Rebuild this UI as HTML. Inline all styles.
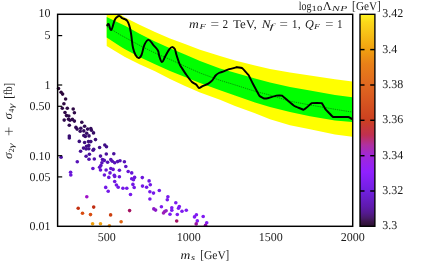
<!DOCTYPE html>
<html><head><meta charset="utf-8"><style>
html,body{margin:0;padding:0;background:#fff;}
body{width:431px;height:264px;overflow:hidden;}
svg{display:block;will-change:transform;}
text{text-rendering:geometricPrecision;font-family:"Liberation Serif",serif;font-size:12px;fill:#1c1c1c;}
</style></head><body>
<svg width="431" height="264" viewBox="0 0 431 264">
<rect width="431" height="264" fill="#fff"/>
<polygon points="106.7,14.9 121.2,14.9 125.0,17.4 140.0,25.0 155.0,32.0 170.0,38.4 185.0,44.1 200.0,49.8 220.0,56.1 235.0,60.4 255.0,65.6 270.0,69.1 290.0,72.6 310.0,75.5 335.0,79.2 352.3,81.6 352.3,136.7 335.0,134.4 310.0,129.3 290.0,125.3 270.0,119.2 255.0,113.3 235.0,105.9 220.0,99.8 200.0,92.6 185.0,86.0 170.0,78.9 155.0,71.3 140.0,64.6 125.0,57.0 121.2,54.8 106.7,45.9" fill="#ffff00"/>
<polygon points="106.7,17.1 121.2,24.0 125.0,25.8 140.0,33.9 155.0,41.4 170.0,48.2 185.0,54.5 200.0,60.9 220.0,68.4 235.0,72.8 255.0,78.4 270.0,82.5 290.0,86.9 310.0,90.4 335.0,94.9 352.3,97.2 352.3,122.1 335.0,120.6 310.0,116.3 290.0,112.1 270.0,107.1 255.0,102.4 235.0,95.6 220.0,90.3 200.0,83.1 185.0,77.0 170.0,70.9 155.0,64.2 140.0,57.2 125.0,49.2 121.2,46.9 106.7,37.5" fill="#00ff00"/>
<polyline points="106.7,26.5 121.2,35.4 125.0,37.4 140.0,45.6 155.0,53.0 170.0,59.4 185.0,66.3 200.0,73.0 220.0,80.3 235.0,84.9 255.0,91.3 270.0,95.1 290.0,101.2 310.0,105.0 335.0,109.3 352.3,112.1" fill="none" stroke="#0a400a" stroke-width="0.55" stroke-dasharray="1.3 0.9"/>
<path d="M106.90,26.20 C107.24,25.76 107.74,23.24 108.60,24.00 C109.46,24.76 110.02,30.70 111.20,30.00 C112.38,29.30 113.38,23.06 114.50,20.50 C115.62,17.94 115.76,18.08 116.80,17.20 C117.84,16.32 118.64,15.90 119.70,16.10 C120.76,16.30 121.06,17.58 122.10,18.20 C123.14,18.82 123.86,18.64 124.90,19.20 C125.94,19.76 126.44,19.78 127.30,21.00 C128.16,22.22 128.54,23.30 129.20,25.30 C129.86,27.30 130.14,28.66 130.60,31.00 C131.06,33.34 131.02,33.64 131.50,37.00 C131.98,40.36 132.20,44.20 133.00,47.80 C133.80,51.40 134.36,52.98 135.50,55.00 C136.64,57.02 137.50,57.90 138.70,57.90 C139.90,57.90 140.34,57.66 141.50,55.00 C142.66,52.34 143.06,47.62 144.50,44.60 C145.94,41.58 146.92,39.80 148.70,39.90 C150.48,40.00 151.56,42.98 153.40,45.10 C155.24,47.22 156.72,48.28 157.90,50.50 C159.08,52.72 158.48,53.90 159.30,56.20 C160.12,58.50 160.80,62.00 162.00,62.00 C163.20,62.00 163.88,58.68 165.30,56.20 C166.72,53.72 167.78,51.42 169.10,49.60 C170.42,47.78 170.76,47.20 171.90,47.10 C173.04,47.00 173.86,47.46 174.80,49.10 C175.74,50.74 175.66,52.36 176.60,55.30 C177.54,58.24 178.54,61.40 179.50,63.80 C180.46,66.20 181.02,66.60 181.40,67.30" fill="none" stroke="#000" stroke-width="1.95" stroke-linejoin="round" stroke-linecap="butt"/>
<path d="M181.40,67.30 C181.89,68.04 185.24,73.23 186.30,74.70 C187.36,76.17 191.02,81.03 192.00,82.00 C192.98,82.97 195.40,83.80 196.10,84.40 C196.80,85.00 198.35,87.83 199.00,88.00 C199.65,88.17 201.67,86.54 202.60,86.10 C203.53,85.66 207.33,84.17 208.30,83.60 C209.27,83.03 211.57,81.21 212.30,80.40 C213.03,79.59 214.94,76.24 215.60,75.50 C216.26,74.76 218.09,73.41 218.90,73.00 C219.71,72.59 222.75,71.76 223.70,71.40 C224.65,71.04 227.12,69.81 228.40,69.40 C229.68,68.99 235.69,67.51 236.50,67.30" fill="none" stroke="#000" stroke-width="1.95" stroke-linejoin="round" stroke-linecap="round"/>
<path d="M236.50,67.30 C236.65,67.32 241.98,67.99 242.30,68.20 C242.62,68.41 248.23,74.61 248.50,75.00 C248.77,75.39 252.27,82.55 252.50,83.00 C252.73,83.45 257.11,91.65 257.30,92.00 C257.49,92.35 259.44,95.83 259.60,96.00 C259.76,96.17 263.19,98.24 263.40,98.30 C263.61,98.36 267.16,98.37 267.50,98.30 C267.84,98.23 275.91,95.67 276.30,95.60 C276.69,95.53 281.70,95.47 282.00,95.60 C282.30,95.73 287.37,100.22 287.70,100.50 C288.03,100.78 293.97,105.75 294.40,106.00 C294.83,106.25 303.34,109.87 303.80,109.80 C304.26,109.73 311.32,103.38 311.80,103.20 C312.28,103.02 321.43,103.04 321.80,103.20 C322.17,103.36 325.30,108.93 325.60,109.30 C325.90,109.67 332.59,116.79 333.20,117.00 C333.81,117.21 347.89,116.94 348.40,117.00 C348.91,117.06 352.20,119.14 352.30,119.20" fill="none" stroke="#000" stroke-width="1.95" stroke-linejoin="miter" stroke-linecap="butt"/>
<circle cx="58.5" cy="88.5" r="1.8" fill="#2c0838"/>
<circle cx="61.1" cy="92.3" r="1.8" fill="#2c083b"/>
<circle cx="62.6" cy="94.1" r="1.8" fill="#2d083c"/>
<circle cx="65.6" cy="99.0" r="1.8" fill="#2d093f"/>
<circle cx="63.9" cy="103.7" r="1.8" fill="#2e0942"/>
<circle cx="62.3" cy="108.2" r="1.8" fill="#2e0945"/>
<circle cx="67.3" cy="108.2" r="1.8" fill="#2e0945"/>
<circle cx="73.2" cy="109.0" r="1.8" fill="#2e0946"/>
<circle cx="65.0" cy="112.5" r="1.8" fill="#2f0948"/>
<circle cx="74.4" cy="112.7" r="1.8" fill="#2f0948"/>
<circle cx="66.5" cy="115.6" r="1.8" fill="#2f094a"/>
<circle cx="68.8" cy="116.0" r="1.8" fill="#2f0a4a"/>
<circle cx="64.2" cy="120.1" r="1.8" fill="#2f0a4d"/>
<circle cx="68.5" cy="119.2" r="1.8" fill="#2f0a4c"/>
<circle cx="70.0" cy="120.3" r="1.8" fill="#2f0a4d"/>
<circle cx="72.4" cy="119.4" r="1.8" fill="#2f0a4c"/>
<circle cx="74.4" cy="121.1" r="1.8" fill="#300a4d"/>
<circle cx="69.3" cy="125.3" r="1.8" fill="#300a51"/>
<circle cx="81.8" cy="122.3" r="1.8" fill="#300a4e"/>
<circle cx="75.9" cy="127.4" r="1.8" fill="#320b56"/>
<circle cx="77.1" cy="129.1" r="1.8" fill="#330b5b"/>
<circle cx="84.6" cy="126.2" r="1.8" fill="#310a53"/>
<circle cx="80.8" cy="128.2" r="1.8" fill="#320b59"/>
<circle cx="80.2" cy="131.2" r="1.8" fill="#340c61"/>
<circle cx="83.8" cy="130.9" r="1.8" fill="#340c60"/>
<circle cx="87.6" cy="129.1" r="1.8" fill="#330b5b"/>
<circle cx="90.8" cy="128.5" r="1.8" fill="#320b59"/>
<circle cx="91.4" cy="130.3" r="1.8" fill="#340b5e"/>
<circle cx="86.7" cy="133.2" r="1.8" fill="#350c66"/>
<circle cx="93.5" cy="132.9" r="1.8" fill="#350c65"/>
<circle cx="83.8" cy="135.5" r="1.8" fill="#370d6c"/>
<circle cx="85.3" cy="136.4" r="1.8" fill="#380d6e"/>
<circle cx="89.0" cy="135.9" r="1.8" fill="#370d6d"/>
<circle cx="69.3" cy="136.1" r="1.8" fill="#370d6e"/>
<circle cx="69.3" cy="138.0" r="1.8" fill="#390d73"/>
<circle cx="95.5" cy="139.6" r="1.8" fill="#3a0e77"/>
<circle cx="79.3" cy="141.4" r="1.8" fill="#3b0e7c"/>
<circle cx="84.6" cy="142.5" r="1.8" fill="#3d0e7f"/>
<circle cx="88.5" cy="141.6" r="1.8" fill="#3c0e7c"/>
<circle cx="90.8" cy="141.6" r="1.8" fill="#3c0e7c"/>
<circle cx="88.8" cy="145.4" r="1.8" fill="#400f86"/>
<circle cx="86.5" cy="146.3" r="1.8" fill="#410f89"/>
<circle cx="83.5" cy="148.1" r="1.8" fill="#430f8e"/>
<circle cx="86.1" cy="149.0" r="1.8" fill="#440f90"/>
<circle cx="88.8" cy="148.7" r="1.8" fill="#430f8f"/>
<circle cx="80.6" cy="151.3" r="1.8" fill="#461096"/>
<circle cx="93.7" cy="149.3" r="1.8" fill="#440f91"/>
<circle cx="93.1" cy="150.2" r="1.8" fill="#450f93"/>
<circle cx="99.6" cy="147.5" r="1.8" fill="#420f8c"/>
<circle cx="104.8" cy="145.0" r="1.8" fill="#3f0f85"/>
<circle cx="106.5" cy="146.7" r="1.8" fill="#410f8a"/>
<circle cx="89.4" cy="154.3" r="1.8" fill="#49109e"/>
<circle cx="86.1" cy="156.3" r="1.8" fill="#4c10a5"/>
<circle cx="61.1" cy="157.2" r="1.8" fill="#4e11a8"/>
<circle cx="89.0" cy="159.2" r="1.8" fill="#5211af"/>
<circle cx="94.3" cy="159.0" r="1.8" fill="#5111ae"/>
<circle cx="100.5" cy="156.1" r="1.8" fill="#4c10a4"/>
<circle cx="106.3" cy="154.0" r="1.8" fill="#49109d"/>
<circle cx="113.8" cy="153.7" r="1.8" fill="#49109d"/>
<circle cx="77.3" cy="161.8" r="1.8" fill="#5712b8"/>
<circle cx="102.5" cy="159.6" r="1.8" fill="#5311b0"/>
<circle cx="104.3" cy="160.4" r="1.8" fill="#5411b3"/>
<circle cx="101.9" cy="162.8" r="1.8" fill="#5912bb"/>
<circle cx="100.9" cy="165.5" r="1.8" fill="#5e13c4"/>
<circle cx="107.6" cy="162.2" r="1.8" fill="#5712b9"/>
<circle cx="110.8" cy="159.6" r="1.8" fill="#5311b0"/>
<circle cx="112.3" cy="161.2" r="1.8" fill="#5612b5"/>
<circle cx="114.7" cy="162.8" r="1.8" fill="#5912bb"/>
<circle cx="117.6" cy="161.6" r="1.8" fill="#5612b7"/>
<circle cx="120.0" cy="160.8" r="1.8" fill="#5512b4"/>
<circle cx="124.4" cy="161.8" r="1.8" fill="#5712b8"/>
<circle cx="99.6" cy="167.3" r="1.8" fill="#6113cb"/>
<circle cx="100.5" cy="170.0" r="1.8" fill="#6614d4"/>
<circle cx="92.9" cy="168.5" r="1.8" fill="#6314cf"/>
<circle cx="70.6" cy="172.3" r="1.8" fill="#6815d7"/>
<circle cx="70.8" cy="175.0" r="1.8" fill="#6a15da"/>
<circle cx="104.4" cy="175.0" r="1.8" fill="#6a15da"/>
<circle cx="125.8" cy="166.5" r="1.8" fill="#5f13c8"/>
<circle cx="110.8" cy="168.5" r="1.8" fill="#6314cf"/>
<circle cx="113.1" cy="169.4" r="1.8" fill="#6514d2"/>
<circle cx="106.1" cy="170.0" r="1.8" fill="#6614d4"/>
<circle cx="119.4" cy="170.3" r="1.8" fill="#6614d4"/>
<circle cx="128.2" cy="171.5" r="1.8" fill="#6714d6"/>
<circle cx="131.7" cy="172.9" r="1.8" fill="#6815d7"/>
<circle cx="110.0" cy="172.9" r="1.8" fill="#6815d7"/>
<circle cx="114.3" cy="175.3" r="1.8" fill="#6a15da"/>
<circle cx="114.7" cy="176.4" r="1.8" fill="#6b16dc"/>
<circle cx="108.8" cy="177.4" r="1.8" fill="#6c16dd"/>
<circle cx="119.4" cy="176.7" r="1.8" fill="#6b16dc"/>
<circle cx="134.6" cy="177.4" r="1.8" fill="#6c16dd"/>
<circle cx="131.7" cy="178.8" r="1.8" fill="#6d16df"/>
<circle cx="133.5" cy="179.7" r="1.8" fill="#6e17e0"/>
<circle cx="142.3" cy="177.6" r="1.8" fill="#6c16dd"/>
<circle cx="114.7" cy="181.5" r="1.8" fill="#6f17e2"/>
<circle cx="149.1" cy="180.9" r="1.8" fill="#6f17e1"/>
<circle cx="116.4" cy="185.0" r="1.8" fill="#7218e6"/>
<circle cx="118.2" cy="187.2" r="1.8" fill="#7318e7"/>
<circle cx="132.9" cy="184.4" r="1.8" fill="#7218e5"/>
<circle cx="134.2" cy="187.5" r="1.8" fill="#7318e7"/>
<circle cx="142.5" cy="186.1" r="1.8" fill="#7318e7"/>
<circle cx="146.6" cy="187.3" r="1.8" fill="#7318e7"/>
<circle cx="150.3" cy="184.8" r="1.8" fill="#7218e6"/>
<circle cx="105.7" cy="187.4" r="1.8" fill="#7318e7"/>
<circle cx="122.9" cy="188.2" r="1.8" fill="#7418e8"/>
<circle cx="126.8" cy="188.2" r="1.8" fill="#7418e8"/>
<circle cx="108.2" cy="191.2" r="1.8" fill="#7519e9"/>
<circle cx="130.5" cy="194.5" r="1.8" fill="#7719eb"/>
<circle cx="149.9" cy="191.7" r="1.8" fill="#7519e9"/>
<circle cx="149.9" cy="199.0" r="1.8" fill="#7919ed"/>
<circle cx="153.5" cy="193.1" r="1.8" fill="#7619ea"/>
<circle cx="159.3" cy="190.5" r="1.8" fill="#7519e9"/>
<circle cx="167.9" cy="196.8" r="1.8" fill="#7819ec"/>
<circle cx="167.3" cy="199.7" r="1.8" fill="#7919ed"/>
<circle cx="175.8" cy="202.7" r="1.8" fill="#7b1aef"/>
<circle cx="161.4" cy="206.8" r="1.8" fill="#7d1af0"/>
<circle cx="171.8" cy="207.7" r="1.8" fill="#7d1af1"/>
<circle cx="171.8" cy="210.3" r="1.8" fill="#7e1bf1"/>
<circle cx="179.3" cy="206.6" r="1.8" fill="#7d1af0"/>
<circle cx="178.5" cy="208.3" r="1.8" fill="#7d1af1"/>
<circle cx="186.3" cy="210.3" r="1.8" fill="#7e1bf1"/>
<circle cx="182.0" cy="211.3" r="1.8" fill="#7e1bf1"/>
<circle cx="170.0" cy="214.2" r="1.8" fill="#801bf2"/>
<circle cx="177.3" cy="214.5" r="1.8" fill="#801bf2"/>
<circle cx="194.5" cy="216.9" r="1.8" fill="#811bf2"/>
<circle cx="196.4" cy="214.8" r="1.8" fill="#801bf2"/>
<circle cx="203.2" cy="216.5" r="1.8" fill="#801bf2"/>
<circle cx="197.3" cy="220.9" r="1.8" fill="#821cf3"/>
<circle cx="206.7" cy="222.8" r="1.8" fill="#831cf3"/>
<circle cx="153.8" cy="208.9" r="1.8" fill="#8c18c8"/>
<circle cx="155.6" cy="210.1" r="1.8" fill="#8c18c8"/>
<circle cx="166.1" cy="210.7" r="1.8" fill="#9420c4"/>
<circle cx="164.7" cy="211.5" r="1.8" fill="#9420c4"/>
<circle cx="163.5" cy="213.0" r="1.8" fill="#9c20b8"/>
<circle cx="86.8" cy="196.8" r="1.8" fill="#a010c8"/>
<circle cx="129.6" cy="210.6" r="1.8" fill="#a41060"/>
<circle cx="176.7" cy="221.0" r="1.8" fill="#a41060"/>
<circle cx="196.2" cy="223.9" r="1.8" fill="#9810a0"/>
<circle cx="205.5" cy="225.3" r="1.8" fill="#9010b0"/>
<circle cx="78.2" cy="208.3" r="1.8" fill="#c43010"/>
<circle cx="93.7" cy="207.1" r="1.8" fill="#c02c10"/>
<circle cx="82.5" cy="213.2" r="1.8" fill="#d84c10"/>
<circle cx="90.5" cy="214.6" r="1.8" fill="#d84c10"/>
<circle cx="110.6" cy="214.9" r="1.8" fill="#cc4010"/>
<circle cx="121.1" cy="221.8" r="1.8" fill="#e06410"/>
<circle cx="92.6" cy="223.8" r="1.8" fill="#f0a010"/>
<circle cx="100.5" cy="223.8" r="1.8" fill="#f0a010"/>
<circle cx="109.4" cy="225.7" r="1.8" fill="#ec8c10"/>
<rect x="57.6" y="14.3" width="295.1" height="212.0" fill="none" stroke="#000" stroke-width="1.45"/>
<line x1="57.6" y1="35.6" x2="62.2" y2="35.6" stroke="#000" stroke-width="1.2"/>
<line x1="57.6" y1="85.0" x2="62.2" y2="85.0" stroke="#000" stroke-width="1.2"/>
<line x1="57.6" y1="106.3" x2="62.2" y2="106.3" stroke="#000" stroke-width="1.2"/>
<line x1="57.6" y1="155.7" x2="62.2" y2="155.7" stroke="#000" stroke-width="1.2"/>
<line x1="57.6" y1="176.9" x2="62.2" y2="176.9" stroke="#000" stroke-width="1.2"/>
<defs><linearGradient id="cb" x1="0" y1="0" x2="0" y2="1"><stop offset="0.0009" stop-color="#fff420"/><stop offset="0.0363" stop-color="#fbd81a"/><stop offset="0.0740" stop-color="#f8c818"/><stop offset="0.1660" stop-color="#f0a010"/><stop offset="0.2344" stop-color="#e88018"/><stop offset="0.3334" stop-color="#e06820"/><stop offset="0.4996" stop-color="#cc4020"/><stop offset="0.5692" stop-color="#c03050"/><stop offset="0.6164" stop-color="#b030a0"/><stop offset="0.6659" stop-color="#a028d8"/><stop offset="0.7437" stop-color="#9020ff"/><stop offset="0.8321" stop-color="#7020e0"/><stop offset="0.9087" stop-color="#5e1aac"/><stop offset="0.9370" stop-color="#541a90"/><stop offset="0.9606" stop-color="#481a6c"/><stop offset="0.9795" stop-color="#3a1648"/><stop offset="0.9998" stop-color="#2a1030"/></linearGradient></defs>
<rect x="360.0" y="14.3" width="14.9" height="212.0" fill="url(#cb)" stroke="#000" stroke-width="1.35"/>
<line x1="360.0" y1="191.0" x2="364.5" y2="191.0" stroke="#000" stroke-width="1.45"/>
<line x1="370.2" y1="191.0" x2="374.9" y2="191.0" stroke="#000" stroke-width="1.45"/>
<line x1="360.0" y1="155.7" x2="364.5" y2="155.7" stroke="#000" stroke-width="1.45"/>
<line x1="370.2" y1="155.7" x2="374.9" y2="155.7" stroke="#000" stroke-width="1.45"/>
<line x1="360.0" y1="120.3" x2="364.5" y2="120.3" stroke="#000" stroke-width="1.45"/>
<line x1="370.2" y1="120.3" x2="374.9" y2="120.3" stroke="#000" stroke-width="1.45"/>
<line x1="360.0" y1="85.0" x2="364.5" y2="85.0" stroke="#000" stroke-width="1.45"/>
<line x1="370.2" y1="85.0" x2="374.9" y2="85.0" stroke="#000" stroke-width="1.45"/>
<line x1="360.0" y1="49.6" x2="364.5" y2="49.6" stroke="#000" stroke-width="1.45"/>
<line x1="370.2" y1="49.6" x2="374.9" y2="49.6" stroke="#000" stroke-width="1.45"/>
<text x="50.5" y="17.4" text-anchor="end" >10</text>
<text x="50.5" y="39.4" text-anchor="end" >5</text>
<text x="50.5" y="88.8" text-anchor="end" >1</text>
<text x="50.5" y="110.1" text-anchor="end" >0.50</text>
<text x="50.5" y="159.5" text-anchor="end" >0.10</text>
<text x="50.5" y="180.7" text-anchor="end" >0.05</text>
<text x="50.5" y="230.2" text-anchor="end" >0.01</text>
<text x="106.8" y="241.4" text-anchor="middle" >500</text>
<text x="188.8" y="241.4" text-anchor="middle" >1000</text>
<text x="270.8" y="241.4" text-anchor="middle" >1500</text>
<text x="352.8" y="241.4" text-anchor="middle" >2000</text>
<text x="382.3" y="229.3" text-anchor="start" >3.3</text>
<text x="382.3" y="194.0" text-anchor="start" >3.32</text>
<text x="382.3" y="158.7" text-anchor="start" >3.34</text>
<text x="382.3" y="123.3" text-anchor="start" >3.36</text>
<text x="382.3" y="88.0" text-anchor="start" >3.38</text>
<text x="382.3" y="52.6" text-anchor="start" >3.4</text>
<text x="382.3" y="17.0" text-anchor="start" >3.42</text>
<text x="180.6" y="258.6" textLength="9.8" lengthAdjust="spacingAndGlyphs" font-style="italic">m</text>
<text x="191.0" y="260.3" textLength="4.2" lengthAdjust="spacingAndGlyphs" style="font-size:7.8px" font-style="italic">s</text>
<text x="200.3" y="258.9" textLength="3.7" lengthAdjust="spacingAndGlyphs" style="font-size:13.0px">[</text>
<text x="204.0" y="258.6" textLength="21.9" lengthAdjust="spacingAndGlyphs">GeV</text>
<text x="225.4" y="258.9" textLength="3.7" lengthAdjust="spacingAndGlyphs" style="font-size:13.0px">]</text>
<text x="298.7" y="9.8" textLength="12.8" lengthAdjust="spacingAndGlyphs">log</text>
<text x="311.6" y="11.2" textLength="10.6" lengthAdjust="spacingAndGlyphs" style="font-size:7.8px">10</text>
<text x="322.7" y="9.8" textLength="8.9" lengthAdjust="spacingAndGlyphs">Λ</text>
<text x="331.7" y="11.2" textLength="8.2" lengthAdjust="spacingAndGlyphs" style="font-size:7.8px" font-style="italic">N</text>
<text x="340.2" y="11.2" textLength="7.0" lengthAdjust="spacingAndGlyphs" style="font-size:7.8px" font-style="italic">P</text>
<text x="351.9" y="10.1" textLength="3.7" lengthAdjust="spacingAndGlyphs" style="font-size:13.0px">[</text>
<text x="355.9" y="9.8" textLength="21.2" lengthAdjust="spacingAndGlyphs">GeV</text>
<text x="377.0" y="10.1" textLength="3.7" lengthAdjust="spacingAndGlyphs" style="font-size:13.0px">]</text>
<text x="189.0" y="27.8" textLength="9.8" lengthAdjust="spacingAndGlyphs" font-style="italic">m</text>
<text x="199.4" y="29.4" textLength="6.4" lengthAdjust="spacingAndGlyphs" style="font-size:7.8px" font-style="italic">F</text>
<text x="210.6" y="27.8" textLength="8.6" lengthAdjust="spacingAndGlyphs">=</text>
<text x="222.4" y="27.8" textLength="5.6" lengthAdjust="spacingAndGlyphs">2</text>
<text x="233.0" y="27.8" textLength="23.8" lengthAdjust="spacingAndGlyphs">TeV,</text>
<text x="261.8" y="27.8" textLength="8.8" lengthAdjust="spacingAndGlyphs" font-style="italic">N</text>
<text x="269.6" y="29.4" textLength="4.4" lengthAdjust="spacingAndGlyphs" style="font-size:7.8px" font-style="italic">f</text>
<text x="279.4" y="27.8" textLength="8.4" lengthAdjust="spacingAndGlyphs">=</text>
<text x="291.8" y="27.8" textLength="8.8" lengthAdjust="spacingAndGlyphs">1,</text>
<text x="305.0" y="27.8" textLength="8.8" lengthAdjust="spacingAndGlyphs" font-style="italic">Q</text>
<text x="314.0" y="29.4" textLength="6.0" lengthAdjust="spacingAndGlyphs" style="font-size:7.8px" font-style="italic">F</text>
<text x="325.2" y="27.8" textLength="8.2" lengthAdjust="spacingAndGlyphs">=</text>
<text x="337.0" y="27.8" textLength="5.6" lengthAdjust="spacingAndGlyphs">1</text>
<g transform="translate(12.3,158.9) rotate(-90)"><text x="0.0" y="0.0" textLength="6.5" lengthAdjust="spacingAndGlyphs" font-style="italic">σ</text><text x="6.7" y="2.0" textLength="4.0" lengthAdjust="spacingAndGlyphs" style="font-size:7.8px">2</text><text x="10.6" y="2.0" textLength="5.0" lengthAdjust="spacingAndGlyphs" style="font-size:7.8px" font-style="italic">γ</text><text x="39.5" y="0.0" textLength="6.5" lengthAdjust="spacingAndGlyphs" font-style="italic">σ</text><text x="46.2" y="2.0" textLength="4.0" lengthAdjust="spacingAndGlyphs" style="font-size:7.8px">4</text><text x="50.3" y="2.0" textLength="5.0" lengthAdjust="spacingAndGlyphs" style="font-size:7.8px" font-style="italic">γ</text><text x="60.2" y="0.3" textLength="3.7" lengthAdjust="spacingAndGlyphs" style="font-size:13.0px">[</text><text x="63.9" y="0.0" textLength="8.6" lengthAdjust="spacingAndGlyphs">fb</text><text x="72.4" y="0.3" textLength="3.7" lengthAdjust="spacingAndGlyphs" style="font-size:13.0px">]</text><path d="M23.6,-3.45 h7.9 M27.55,-7.4 v7.9" stroke="#222" stroke-width="0.65" fill="none"/></g>
</svg>
</body></html>
